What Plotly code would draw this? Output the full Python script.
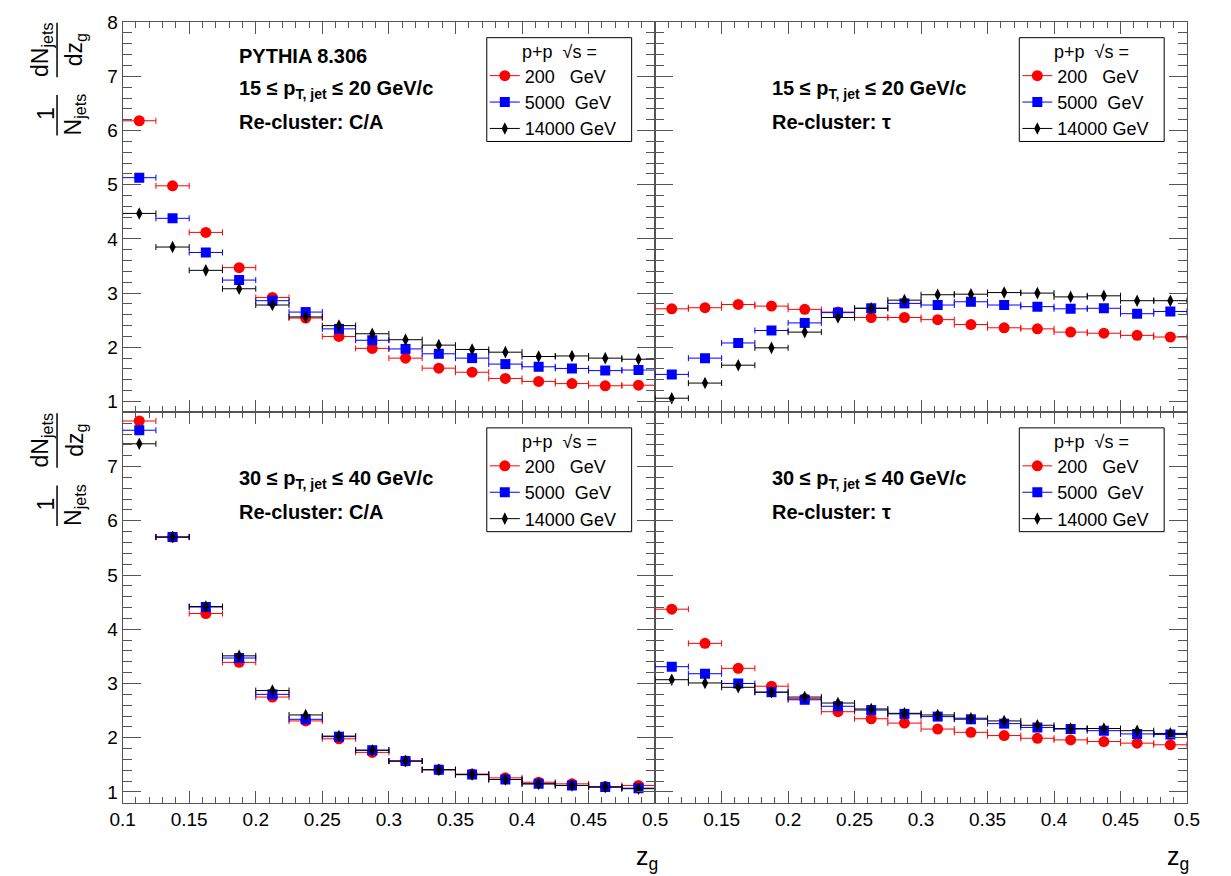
import plotly.graph_objects as go

# ---------------- data ----------------
zg_centers = [0.1125, 0.1375, 0.1625, 0.1875, 0.2125, 0.2375, 0.2625, 0.2875,
              0.3125, 0.3375, 0.3625, 0.3875, 0.4125, 0.4375, 0.4625, 0.4875]
zg_bin_width = 0.025

legend_labels = ["200\u00a0\u00a0\u00a0GeV", "5000\u00a0\u00a0GeV", "14000\u00a0GeV"]

ca_15_20_200 = [6.18, 4.98, 4.12, 3.47, 2.92, 2.54, 2.20, 1.98, 1.80, 1.615, 1.54, 1.425, 1.37, 1.33, 1.29, 1.30]
ca_15_20_5000 = [5.13, 4.38, 3.75, 3.24, 2.86, 2.65, 2.34, 2.13, 1.97, 1.88, 1.80, 1.69, 1.64, 1.61, 1.57, 1.58]
ca_15_20_14000 = [4.47, 3.85, 3.42, 3.08, 2.78, 2.56, 2.40, 2.25, 2.14, 2.04, 1.96, 1.91, 1.83, 1.84, 1.80, 1.78]

tau_15_20_200 = [2.71, 2.73, 2.79, 2.76, 2.70, 2.65, 2.55, 2.55, 2.51, 2.42, 2.36, 2.34, 2.28, 2.26, 2.22, 2.19]
tau_15_20_5000 = [1.50, 1.80, 2.08, 2.31, 2.45, 2.64, 2.72, 2.81, 2.78, 2.84, 2.78, 2.75, 2.71, 2.72, 2.62, 2.66]
tau_15_20_14000 = [1.06, 1.34, 1.67, 1.99, 2.28, 2.55, 2.72, 2.87, 2.97, 2.98, 3.01, 3.00, 2.93, 2.95, 2.86, 2.86]

ca_30_40_200 = [7.84, 5.70, 4.29, 3.39, 2.75, 2.31, 1.98, 1.73, 1.57, 1.41, 1.33, 1.26, 1.18, 1.15, 1.10, 1.12]
ca_30_40_5000 = [7.67, 5.70, 4.41, 3.47, 2.80, 2.34, 2.02, 1.77, 1.57, 1.41, 1.32, 1.23, 1.15, 1.12, 1.09, 1.07]
ca_30_40_14000 = [7.42, 5.70, 4.42, 3.51, 2.87, 2.42, 2.03, 1.77, 1.57, 1.41, 1.32, 1.23, 1.15, 1.12, 1.09, 1.06]

tau_30_40_200 = [4.37, 3.74, 3.28, 2.95, 2.72, 2.48, 2.35, 2.27, 2.16, 2.10, 2.04, 1.99, 1.96, 1.93, 1.90, 1.87]
tau_30_40_5000 = [3.31, 3.18, 3.00, 2.84, 2.70, 2.58, 2.51, 2.44, 2.39, 2.34, 2.26, 2.19, 2.16, 2.13, 2.07, 2.06]
tau_30_40_14000 = [3.07, 3.01, 2.93, 2.84, 2.75, 2.64, 2.53, 2.45, 2.42, 2.36, 2.31, 2.23, 2.17, 2.17, 2.13, 2.08]

x_tick_vals = [0.1, 0.15, 0.2, 0.25, 0.3, 0.35, 0.4, 0.45, 0.5]
x_tick_text = ["0.1", "0.15", "0.2", "0.25", "0.3", "0.35", "0.4", "0.45", "0.5"]
y_tick_vals_top = [1, 2, 3, 4, 5, 6, 7, 8]
y_tick_vals_bottom = [1, 2, 3, 4, 5, 6, 7]

# ---------------- styling ----------------
W, H = 1231, 876
FONT = "Liberation Sans, Arial, Helvetica, sans-serif"
AXC = "#555555"
colors = ["#ff0000", "#0000ff", "#000000"]
symbols = ["circle", "square", "diamond-tall"]
msizes = [11, 10, 9]


def px_x(p):
    return p / W


def px_y(p):
    return 1 - p / H


X_L = [px_x(112), px_x(656)]
X_R = [px_x(656), px_x(1199.3)]
Y_T = [px_y(406.7), px_y(12)]
Y_B = [px_y(801.7), px_y(406.7)]

panels = [
    ("", X_L, Y_T, 112, 12, [ca_15_20_200, ca_15_20_5000, ca_15_20_14000], "15", "20", "C/A", True, "legend"),
    ("2", X_R, Y_T, 656, 12, [tau_15_20_200, tau_15_20_5000, tau_15_20_14000], "15", "20", "\u03c4", False, "legend2"),
    ("3", X_L, Y_B, 112, 406.7, [ca_30_40_200, ca_30_40_5000, ca_30_40_14000], "30", "40", "C/A", False, "legend3"),
    ("4", X_R, Y_B, 656, 406.7, [tau_30_40_200, tau_30_40_5000, tau_30_40_14000], "30", "40", "\u03c4", False, "legend4"),
]

fig = go.Figure()
annotations = []
shapes = []
layout_axes = {}
tfont = dict(family=FONT, size=20, color="black")
lfont = dict(family=FONT, size=18, color="black")

for suf, xd, yd, x0px, y0px, series, ptlo, pthi, rc, pythia, leg in panels:
    xa = "x" + suf
    ya = "y" + suf
    for i in range(3):
        fig.add_trace(go.Scatter(
            x=zg_centers, y=series[i], mode="markers",
            xaxis=xa, yaxis=ya, showlegend=False,
            marker=dict(color=colors[i], symbol=symbols[i], size=msizes[i], line=dict(width=0)),
            error_x=dict(type="constant", value=zg_bin_width / 2, color=colors[i],
                         thickness=1, width=3),
        ))
    for i in range(3):
        fig.add_trace(go.Scatter(
            x=[None], y=[None], mode="lines+markers", xaxis=xa, yaxis=ya,
            name=legend_labels[i], legend=leg, showlegend=True,
            marker=dict(color=colors[i], symbol=symbols[i], size=msizes[i], line=dict(width=0)),
            line=dict(color=colors[i], width=1),
        ))

    is_bottom = yd is Y_B
    is_left = xd is X_L
    layout_axes["xaxis" + suf] = dict(
        domain=xd, anchor=ya, range=[0.1, 0.5],
        tickmode="array", tickvals=x_tick_vals,
        ticktext=x_tick_text if is_left else [""] + x_tick_text[1:],
        showticklabels=is_bottom,
        ticks="inside", ticklen=12, tickwidth=1, tickcolor=AXC,
        minor=dict(ticks="inside", ticklen=6, tickwidth=1, tickcolor=AXC,
                   tickmode="linear", tick0=0.1, dtick=0.01, showgrid=False),
        showline=True, linecolor=AXC, linewidth=1, mirror="allticks",
        showgrid=False, zeroline=False,
        tickfont=dict(family=FONT, size=19, color="black"),
    )
    layout_axes["yaxis" + suf] = dict(
        domain=yd, anchor=xa, range=[0.805, 8.005],
        tickmode="array", tickvals=y_tick_vals_bottom if is_bottom else y_tick_vals_top,
        showticklabels=is_left,
        ticks="inside", ticklen=18, tickwidth=1, tickcolor=AXC,
        minor=dict(ticks="inside", ticklen=9, tickwidth=1, tickcolor=AXC,
                   tickmode="linear", tick0=1, dtick=0.2, showgrid=False),
        showline=True, linecolor=AXC, linewidth=1, mirror="allticks",
        showgrid=False, zeroline=False,
        tickfont=dict(family=FONT, size=19, color="black"),
    )

    # panel texts (positions in reference pixels relative to the panel frame)
    tx = px_x(x0px + 117)
    lines = []
    if pythia:
        lines.append(("<b>PYTHIA 8.306</b>", 35))
    lines.append((f"<b>{ptlo} \u2264 p<sub>T, jet</sub> \u2264 {pthi} GeV/c</b>", 68))
    lines.append((f"<b>Re-cluster: {rc}</b>", 101))
    for txt, dy in lines:
        annotations.append(dict(text=txt, xref="paper", yref="paper", x=tx, y=px_y(y0px + dy),
                                xanchor="left", yanchor="middle", showarrow=False, font=tfont))

    # legend: box + header + entries
    bx0, bx1 = x0px + 372, x0px + 520
    by0, by1 = y0px + 16, y0px + 121
    shapes.append(dict(type="rect", xref="paper", yref="paper", layer="above",
                       x0=px_x(bx0), x1=px_x(bx1), y0=px_y(by1), y1=px_y(by0),
                       fillcolor="white", line=dict(color="black", width=1)))
    annotations.append(dict(text="p+p\u00a0\u00a0\u221As =", xref="paper", yref="paper",
                            x=px_x((bx0 + bx1) / 2), y=px_y(y0px + 30),
                            xanchor="center", yanchor="middle", showarrow=False, font=lfont))
    layout_axes[leg] = dict(
        x=px_x(x0px + 370), y=px_y(y0px + 36), xanchor="left", yanchor="top",
        bgcolor="rgba(0,0,0,0)", borderwidth=0,
        font=lfont, tracegroupgap=0,
    )

# y-axis titles (1/N dN/dz as stacked fractions)
tfs = dict(family=FONT, size=23, color="black")
for off in (0, 395):
    for txt, cx, cy in [("1", 34, 105), ("N<sub>jets</sub>", 63, 106),
                        ("dN<sub>jets</sub>", 29, 40), ("dz<sub>g</sub>", 64, 40)]:
        annotations.append(dict(text=txt, xref="paper", yref="paper", x=px_x(cx), y=px_y(cy + off),
                                xanchor="center", yanchor="middle", textangle=-90,
                                showarrow=False, font=tfs))
    for y0, y1 in [(86, 127), (13, 68)]:
        shapes.append(dict(type="line", xref="paper", yref="paper",
                           x0=px_x(45), x1=px_x(45), y0=px_y(y0 + off), y1=px_y(y1 + off),
                           line=dict(color="black", width=1.5)))

# x-axis titles
for xr_px in (661, 1203):
    annotations.append(dict(text="z<sub>g</sub>", xref="paper", yref="paper",
                            x=px_x(xr_px), y=px_y(858), xanchor="right", yanchor="middle",
                            showarrow=False, font=dict(family=FONT, size=25, color="black")))

fig.update_layout(
    width=W, height=H, margin=dict(l=0, r=0, t=0, b=0),
    paper_bgcolor="white", plot_bgcolor="white",
    annotations=annotations, shapes=shapes,
    **layout_axes,
)

fig.write_html("out.html")
